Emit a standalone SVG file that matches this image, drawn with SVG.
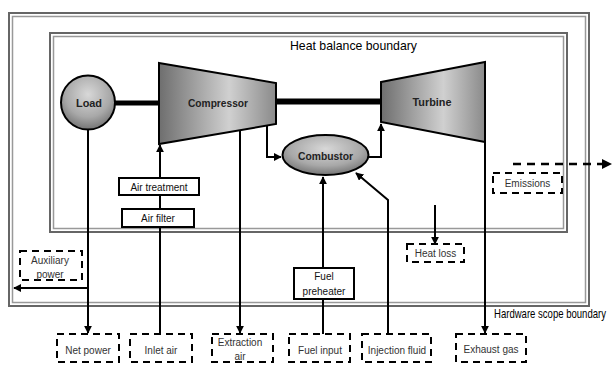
<svg xmlns="http://www.w3.org/2000/svg" width="614" height="365" viewBox="0 0 614 365">
<style>
.b1{fill:none;stroke:#666;stroke-width:2}
.b2{fill:none;stroke:#999;stroke-width:1.5}
.ln{fill:none;stroke:#000;stroke-width:2}
.shaft{fill:none;stroke:#000;stroke-width:6}
.dash{fill:#fff;stroke:#000;stroke-width:2;stroke-dasharray:7 5}
.box{fill:#fff;stroke:#000;stroke-width:2}
.t{font-family:"Liberation Sans",Arial,sans-serif;font-size:10px;fill:#333;text-anchor:middle}
.tb{font-family:"Liberation Sans",Arial,sans-serif;font-size:11px;font-weight:bold;fill:#222;text-anchor:middle}
.tl{font-family:"Liberation Sans",Arial,sans-serif;font-size:13px;fill:#000}
.shape{stroke:#000;stroke-width:2}
</style>
<defs>
<marker id="ah" viewBox="0 0 10 10" refX="9" refY="5" markerWidth="4" markerHeight="4" orient="auto" markerUnits="strokeWidth">
<path d="M0,0 L10,5 L0,10 z" fill="#000"/>
</marker>
<linearGradient id="gTrap" x1="0" y1="0" x2="1" y2="0">
<stop offset="0" stop-color="#6e6e6e"/>
<stop offset="0.6" stop-color="#d0d0d0"/>
<stop offset="1" stop-color="#8a8a8a"/>
</linearGradient>
<radialGradient id="gRound" cx="0.5" cy="0.35" r="0.7">
<stop offset="0" stop-color="#d8d8d8"/>
<stop offset="0.6" stop-color="#a8a8a8"/>
<stop offset="1" stop-color="#6a6a6a"/>
</radialGradient>
</defs>
<rect width="614" height="365" fill="#fff"/>

<g id="hardware-boundary">
<rect class="b1" x="9" y="13" width="580" height="293"/>
<rect class="b2" x="12.5" y="16.5" width="573" height="286"/>
<text class="tl" x="494" y="318" textLength="112" lengthAdjust="spacingAndGlyphs">Hardware scope boundary</text>
</g>
<g id="heat-boundary">
<rect class="b1" x="50" y="33" width="517" height="199"/>
<rect class="b2" x="53.5" y="36.5" width="510" height="192"/>
<text class="tl" x="290" y="50" textLength="127" lengthAdjust="spacingAndGlyphs">Heat balance boundary</text>
</g>

<g id="connectors">
<line class="shaft" x1="114" y1="103" x2="160" y2="103" style="stroke-width:5"/>
<line class="shaft" x1="275" y1="101.5" x2="382" y2="101.5"/>
<polyline class="ln" points="267,125 267,157 281,157" marker-end="url(#ah)"/>
<polyline class="ln" points="368,157 381,157 381,124" marker-end="url(#ah)"/>
<line class="ln" x1="88" y1="130" x2="88" y2="333" marker-end="url(#ah)"/>
<line class="ln" x1="88" y1="288" x2="14" y2="288" marker-end="url(#ah)"/>
<line class="ln" x1="160" y1="334" x2="160" y2="145" marker-end="url(#ah)"/>
<line class="ln" x1="240" y1="130" x2="240" y2="333" marker-end="url(#ah)"/>
<line class="ln" x1="323" y1="334" x2="323" y2="177" marker-end="url(#ah)"/>
<polyline class="ln" points="388,334 388,200 356,173" marker-end="url(#ah)"/>
<line class="ln" x1="435" y1="205" x2="435" y2="244" marker-end="url(#ah)"/>
<line class="ln" x1="485" y1="140" x2="485" y2="333" marker-end="url(#ah)"/>
<line class="ln" x1="513" y1="164" x2="611" y2="164" style="stroke-width:2.5;stroke-dasharray:8 6" marker-end="url(#ah)"/>
</g>

<g id="load">
<circle class="shape" cx="88" cy="102.5" r="27" fill="url(#gRound)"/>
<text class="tb" x="89" y="107" textLength="26" lengthAdjust="spacingAndGlyphs">Load</text>
</g>
<g id="compressor">
<polygon class="shape" points="159,63 276,83 276,124 159,144" fill="url(#gTrap)"/>
<text class="tb" x="218" y="107" textLength="60" lengthAdjust="spacingAndGlyphs">Compressor</text>
</g>
<g id="turbine">
<polygon class="shape" points="381,82 485,62 485,142 381,122" fill="url(#gTrap)"/>
<text class="tb" x="432" y="106" textLength="39" lengthAdjust="spacingAndGlyphs">Turbine</text>
</g>
<g id="combustor">
<ellipse class="shape" cx="325.5" cy="155" rx="43" ry="20" fill="url(#gRound)"/>
<text class="tb" x="325.5" y="160" textLength="55" lengthAdjust="spacingAndGlyphs">Combustor</text>
</g>
<g id="air-treatment">
<rect class="box" x="119" y="178" width="80" height="17"/>
<text class="t" x="159" y="190.5" style="fill:#111">Air treatment</text>
</g>
<g id="air-filter">
<rect class="box" x="122" y="209" width="72" height="18"/>
<text class="t" x="158" y="221.5" style="fill:#111">Air filter</text>
</g>
<g id="fuel-preheater">
<rect class="box" x="294" y="268" width="60" height="31"/>
<text class="t" x="324" y="280" style="fill:#111">Fuel</text>
<text class="t" x="324" y="294.5" style="fill:#111">preheater</text>
</g>
<g id="auxiliary-power">
<rect class="dash" x="20" y="251" width="62" height="29" style="fill:none"/>
<text class="t" x="50" y="263.5">Auxiliary</text>
<text class="t" x="50" y="277.5">power</text>
</g>
<g id="heat-loss">
<rect class="dash" x="407" y="244" width="57" height="18"/>
<text class="t" x="435.5" y="256.5">Heat loss</text>
</g>
<g id="emissions">
<rect class="dash" x="493" y="173" width="69" height="20"/>
<text class="t" x="527.5" y="186.5">Emissions</text>
</g>
<g id="net-power">
<rect class="dash" x="57" y="334" width="62" height="28"/>
<text class="t" x="88" y="353.5">Net power</text>
</g>
<g id="inlet-air">
<rect class="dash" x="130" y="334" width="62" height="28"/>
<text class="t" x="161" y="353.5">Inlet air</text>
</g>
<g id="extraction-air">
<rect class="dash" x="212" y="334" width="61" height="28"/>
<text class="t" x="240" y="345.5">Extraction</text>
<text class="t" x="240" y="360">air</text>
</g>
<g id="fuel-input">
<rect class="dash" x="289" y="334" width="61" height="28"/>
<text class="t" x="320" y="353.5">Fuel input</text>
</g>
<g id="injection-fluid">
<rect class="dash" x="362" y="334" width="69" height="28"/>
<text class="t" x="397" y="353.5">Injection fluid</text>
</g>
<g id="exhaust-gas">
<rect class="dash" x="456" y="334" width="70" height="28"/>
<text class="t" x="491" y="352.5">Exhaust gas</text>
</g>
</svg>
